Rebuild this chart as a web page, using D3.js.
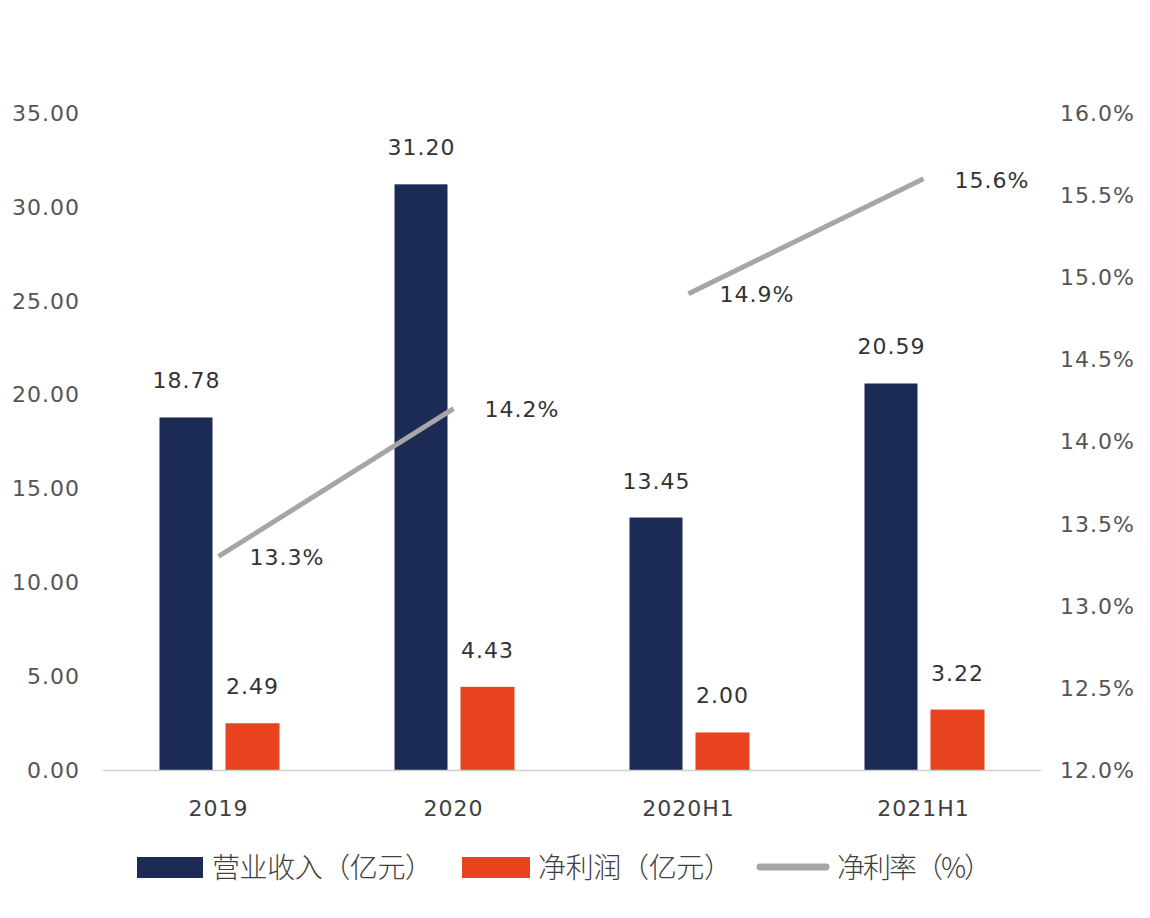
<!DOCTYPE html>
<html>
<head>
<meta charset="utf-8">
<script src="https://cdn.jsdelivr.net/npm/d3@7"></script>
<style>
  body { margin: 0; background: #fff; }
  svg { display: block; }
</style>
</head>
<body>
<svg id="chart" width="1150" height="918"></svg>
<script>
// data
var categories = ['2019', '2020', '2020H1', '2021H1'];
var revenue = [18.78, 31.20, 13.45, 20.59];   // 营业收入（亿元）
var profit = [2.49, 4.43, 2.00, 3.22];        // 净利润（亿元）
var margin = [13.3, 14.2, 14.9, 15.6];        // 净利率（%）
var leftTicks = [0, 5, 10, 15, 20, 25, 30, 35];
var rightTicks = [12.0, 12.5, 13.0, 13.5, 14.0, 14.5, 15.0, 15.5, 16.0];
var lineGroups = [[0, 1], [2, 3]];             // 年度 and 半年度 are drawn apart

var navy = '#1c2b55', red = '#e8421e', grey = '#a6a6a6';
var numFont = '"DejaVu Sans", Verdana, sans-serif';
var cjkFont = '"Noto Sans CJK SC", "Noto Sans", sans-serif';

var svg = d3.select('#chart');

var x = d3.scaleBand().domain(categories).range([101, 1041]);
var yL = d3.scaleLinear().domain([0, 35]).range([770, 113]);
var yR = d3.scaleLinear().domain([12, 16]).range([770, 113]);
var mid = function (i) { return x(categories[i]) + x.bandwidth() / 2; };

// left axis labels
svg.append('g').selectAll('text').data(leftTicks).enter().append('text')
    .attr('x', 80).attr('y', function (d) { return yL(d); })
    .attr('dy', '0.36em').attr('text-anchor', 'end')
    .style('font-family', numFont).style('font-size', '22px')
    .style('letter-spacing', '1px').attr('fill', '#555')
    .text(function (d) { return d.toFixed(2); });

// right axis labels
svg.append('g').selectAll('text').data(rightTicks).enter().append('text')
    .attr('x', 1060).attr('y', function (d) { return yR(d); })
    .attr('dy', '0.36em').attr('text-anchor', 'start')
    .style('font-family', numFont).style('font-size', '22px')
    .style('letter-spacing', '1px').attr('fill', '#555')
    .text(function (d) { return d.toFixed(1) + '%'; });

// bars
var bars = svg.append('g');
bars.selectAll('rect.rev').data(revenue).enter().append('rect')
    .attr('class', 'rev')
    .attr('x', function (d, i) { return mid(i) - 59; })
    .attr('width', 53)
    .attr('y', function (d) { return yL(d); })
    .attr('height', function (d) { return yL(0) - yL(d); })
    .attr('fill', navy);
bars.selectAll('rect.pro').data(profit).enter().append('rect')
    .attr('class', 'pro')
    .attr('x', function (d, i) { return mid(i) + 7; })
    .attr('width', 54)
    .attr('y', function (d) { return yL(d); })
    .attr('height', function (d) { return yL(0) - yL(d); })
    .attr('fill', red);

// baseline
svg.append('line')
    .attr('x1', 103).attr('x2', 1041)
    .attr('y1', yL(0) + 0.5).attr('y2', yL(0) + 0.5)
    .attr('stroke', '#d0d0d0').attr('stroke-width', 1.5);

// bar value labels
var labels = svg.append('g')
    .style('font-family', numFont).style('font-size', '22px')
    .style('letter-spacing', '1px').attr('fill', '#333');
labels.selectAll('text.rev').data(revenue).enter().append('text')
    .attr('x', function (d, i) { return mid(i) - 32; })
    .attr('y', function (d) { return yL(d) - 29; })
    .attr('text-anchor', 'middle')
    .text(function (d) { return d.toFixed(2); });
labels.selectAll('text.pro').data(profit).enter().append('text')
    .attr('x', function (d, i) { return mid(i) + 34; })
    .attr('y', function (d) { return yL(d) - 29; })
    .attr('text-anchor', 'middle')
    .text(function (d) { return d.toFixed(2); });

// margin line, two separate pieces
var line = d3.line()
    .x(function (i) { return mid(i); })
    .y(function (i) { return yR(margin[i]); });
svg.append('g').selectAll('path').data(lineGroups).enter().append('path')
    .attr('d', line)
    .attr('fill', 'none').attr('stroke', grey)
    .attr('stroke-width', 5).attr('stroke-linecap', 'butt');

labels.selectAll('text.mar').data(margin).enter().append('text')
    .attr('x', function (d, i) { return mid(i) + 31; })
    .attr('y', function (d) { return yR(d); })
    .attr('dy', '0.4em')
    .attr('text-anchor', 'start')
    .text(function (d) { return d.toFixed(1) + '%'; });

// x labels
svg.append('g').selectAll('text').data(categories).enter().append('text')
    .attr('x', function (d) { return x(d) + x.bandwidth() / 2; })
    .attr('y', 808).attr('dy', '0.36em')
    .attr('text-anchor', 'middle')
    .style('font-family', numFont).style('font-size', '22px')
    .style('letter-spacing', '1px').attr('fill', '#404040')
    .text(function (d) { return d; });

// legend
var legend = svg.append('g')
    .style('font-family', cjkFont).style('font-size', '28px')
    .style('font-weight', 300).attr('fill', '#404040');
legend.append('rect').attr('x', 137).attr('y', 857).attr('width', 66).attr('height', 21).attr('fill', navy);
legend.append('text').attr('x', 212).attr('y', 868).attr('dy', '0.36em')
    .attr('textLength', 221).attr('lengthAdjust', 'spacing').text('营业收入（亿元）');
legend.append('rect').attr('x', 462).attr('y', 857).attr('width', 68).attr('height', 21).attr('fill', red);
legend.append('text').attr('x', 538).attr('y', 868).attr('dy', '0.36em')
    .attr('textLength', 194).attr('lengthAdjust', 'spacing').text('净利润（亿元）');
legend.append('line').attr('x1', 760).attr('x2', 826).attr('y1', 867).attr('y2', 867)
    .attr('stroke', grey).attr('stroke-width', 7).attr('stroke-linecap', 'round');
legend.append('text').attr('x', 837).attr('y', 868).attr('dy', '0.36em')
    .attr('textLength', 155).attr('lengthAdjust', 'spacing').text('净利率（%）');
</script>
</body>
</html>
